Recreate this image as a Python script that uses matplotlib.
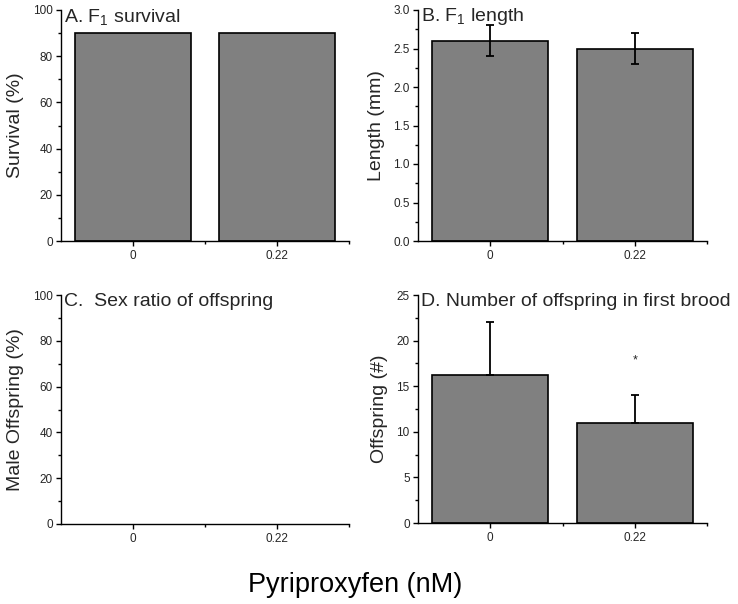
import matplotlib
matplotlib.use("Agg")
import matplotlib.pyplot as plt
from matplotlib.ticker import MultipleLocator, FixedLocator

plt.rcParams['font.family'] = ['Liberation Sans', 'DejaVu Sans']
plt.rcParams['mathtext.fontset'] = 'custom'
plt.rcParams['mathtext.rm'] = 'Liberation Sans'
plt.rcParams['mathtext.default'] = 'regular'

categories = ["0", "0.22"]
survival = [90, 90]
length_mean = [2.6, 2.5]
length_err = [0.2, 0.2]
sex_ratio = []  # no data shown
offspring_mean = [16.2, 11.0]
offspring_err = [5.8, 3.0]
star_y = 17.8

TXT = '#262626'
BAR = '#808080'

fig = plt.figure(figsize=(7.38, 6.04), dpi=100)
W, H = 738, 604

def mkax(l, r, t, b):
    return fig.add_axes([l / W, 1 - b / H, (r - l) / W, (b - t) / H])

axA = mkax(61, 349, 10, 241)
axB = mkax(418, 707, 10, 241)
axC = mkax(61, 349, 295, 524)
axD = mkax(418, 707, 295, 523)

pos = [1, 2]

def style(ax, ymax, major, minor, ylabel, title, fmt=None):
    ax.set_xlim(0.5, 2.5)
    ax.set_ylim(0, ymax)
    for s in ('top', 'right'):
        ax.spines[s].set_visible(False)
    for s in ('left', 'bottom'):
        ax.spines[s].set_linewidth(1.0)
        ax.spines[s].set_color('black')
    ax.xaxis.set_major_locator(FixedLocator(pos))
    ax.set_xticklabels(categories)
    ax.xaxis.set_minor_locator(FixedLocator([1.5, 2.5]))
    ax.yaxis.set_major_locator(MultipleLocator(major))
    ax.yaxis.set_minor_locator(MultipleLocator(minor))
    if fmt:
        ax.yaxis.set_major_formatter(plt.FormatStrFormatter(fmt))
    ax.tick_params(axis='both', which='major', direction='out', length=3.5, width=1,
                   labelsize=8.5, labelcolor=TXT, pad=2.5)
    ax.tick_params(axis='both', which='minor', direction='out', length=2.5, width=1)
    ax.tick_params(axis='x', which='major', pad=3)
    ax.set_ylabel(ylabel, fontsize=14, color=TXT, labelpad=6)
    ax.text(0.01, 0.97, title, transform=ax.transAxes, fontsize=14, color=TXT,
            ha='left', va='center')

axA.bar(pos, survival, width=0.8, color=BAR, edgecolor='black', linewidth=1.2)
style(axA, 100, 20, 10, 'Survival (%)', r'A. F$_1$ survival')

axB.bar(pos, length_mean, width=0.8, color=BAR, edgecolor='black', linewidth=1.2)
axB.errorbar(pos, length_mean, yerr=length_err, fmt='none', ecolor='black',
             elinewidth=1.3, capsize=3, capthick=1.3)
style(axB, 3.0, 0.5, 0.25, 'Length (mm)', r'B. F$_1$ length', fmt='%.1f')

style(axC, 100, 20, 10, 'Male Offspring (%)', 'C.  Sex ratio of offspring')

axD.bar(pos, offspring_mean, width=0.8, color=BAR, edgecolor='black', linewidth=1.2)
axD.errorbar(pos, offspring_mean, yerr=[[0, 0], offspring_err], fmt='none',
             ecolor='black', elinewidth=1.3, capsize=3, capthick=1.3)
axD.text(2, star_y, '*', ha='center', va='center', fontsize=9, color=TXT)
style(axD, 25, 5, 2.5, 'Offspring (#)', 'D. Number of offspring in first brood')

fig.text(355 / W, 1 - 585 / H, 'Pyriproxyfen (nM)', fontsize=19.5, color='black',
         ha='center', va='center')

fig.savefig('out.png', dpi=100)
